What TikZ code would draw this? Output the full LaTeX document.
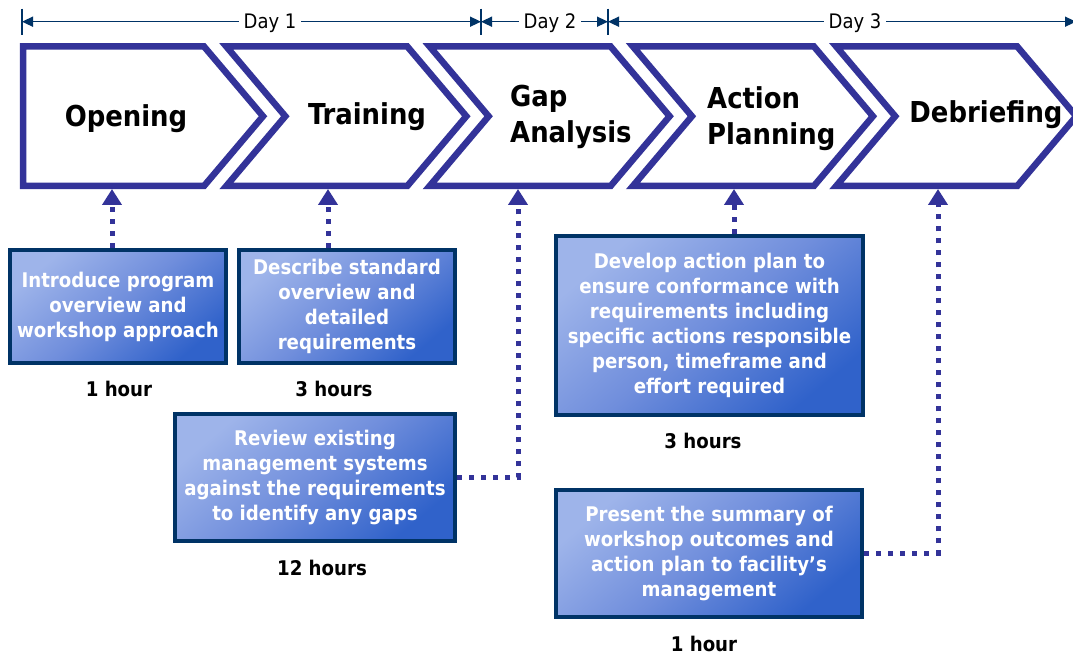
\documentclass[tikz,border=0pt]{standalone}
\usepackage{fontspec}
\setmainfont{DejaVu Sans Condensed}
\usepackage{xcolor}
\usetikzlibrary{arrows.meta}

\definecolor{chevblue}{RGB}{51,51,153}
\definecolor{navy}{RGB}{0,51,102}
\definecolor{boxlight}{RGB}{158,180,234}
\definecolor{boxmid}{RGB}{112,142,220}
\definecolor{boxdark}{RGB}{48,98,202}

\begin{document}
\begin{tikzpicture}[x=1pt,y=-1pt,
 chev/.style={draw=chevblue,line width=6.5pt,fill=white},
 stage/.style={font=\bfseries\fontsize{28.8}{36}\selectfont,inner sep=0pt},
 task/.style={draw=navy,line width=4.5pt,top color=boxlight,bottom color=boxdark,middle color=boxmid,shading angle=40,
  text=white,font=\bfseries\fontsize{20.2}{25}\selectfont,align=center,inner sep=0pt},
 hrs/.style={font=\bfseries\fontsize{20.2}{25}\selectfont,inner sep=0pt,anchor=base},
 link/.style={draw=chevblue,line width=5pt,dash pattern=on 5pt off 7pt,-{Triangle[length=16pt,width=19pt]}},
 span/.style={draw=navy,line width=1.5pt,{Triangle[length=11pt,width=10pt]}-{Triangle[length=11pt,width=10pt]}},
 tick/.style={draw=navy,line width=1.5pt},
 day/.style={fill=white,font=\fontsize{20}{24}\selectfont,inner xsep=5pt,inner ysep=1pt,anchor=base}]

\path[use as bounding box,fill=white] (0,0) rectangle (1073,655);

% days
\coordinate (t0) at (22,21.7);
\coordinate (t1) at (481,21.7);
\coordinate (t2) at (608,21.7);
\coordinate (t3) at (1076,21.7);
\foreach \t in {t0,t1,t2} \draw[tick] (\t) ++(0,-13) -- ++(0,26);
\draw[span] (t0) -- (t1);
\draw[span] (t1) -- (t2);
\draw[span] (t2) -- (t3);
\node[day] (day1) at (270,28.5) {Day 1};
\node[day] (day2) at (550,28.5) {Day 2};
\node[day] (day3) at (855,28.5) {Day 3};

% stages
\begin{scope}[shift={(23,46.5)}]
 \def\w{181} \def\d{59} \def\h{69.75} \def\p{203.3}
 \draw[chev] (0,0) -- ++(\w,0) -- ++(\d,\h) -- ++(-\d,\h) -- ++(-\w,0) -- cycle;
 \foreach \i in {1,...,4}
  \draw[chev,shift={(\i*\p,0)}] (0,0) -- ++(\w,0) -- ++(\d,\h) -- ++(-\d,\h) -- ++(-\w,0) -- ++(\d,-\h) -- cycle;
\end{scope}

\node[stage,anchor=base] (opening) at (126,127) {Opening};
\node[stage,anchor=base] (training) at (367,125) {Training};
\node[stage,align=left,anchor=base west] (gap) at (510,143) {Gap\\Analysis};
\node[stage,align=left,anchor=base west] (action) at (707,145) {Action\\Planning};
\node[stage,anchor=base] (debrief) at (986,123) {Debriefing};

\coordinate (opening-in) at (112,189);
\coordinate (training-in) at (328,189);
\coordinate (gap-in) at (518,189);
\coordinate (action-in) at (734,189);
\coordinate (debrief-in) at (938,189);

% tasks
\node[task,minimum width=216pt,minimum height=113pt] (intro) at (118,306.5)
 {Introduce program\\overview and\\workshop approach};
\node[task,minimum width=216pt,minimum height=113pt] (std) at (347,306.5)
 {Describe standard\\overview and\\detailed\\requirements};
\node[task,minimum width=280pt,minimum height=127pt] (review) at (315,477.5)
 {Review existing\\management systems\\against the requirements\\to identify any gaps};
\node[task,minimum width=307pt,minimum height=179pt] (plan) at (709.5,325.5)
 {Develop action plan to\\ensure conformance with\\requirements including\\specific actions responsible\\person, timeframe and\\effort required};
\node[task,minimum width=306pt,minimum height=127pt] (present) at (709,553.5)
 {Present the summary of\\workshop outcomes and\\action plan to facility’s\\management};

\node[hrs] (intro-h) at (119,396) {1 hour};
\node[hrs] (std-h) at (334,396) {3 hours};
\node[hrs] (review-h) at (322,575) {12 hours};
\node[hrs] (plan-h) at (703,448) {3 hours};
\node[hrs] (present-h) at (704,651) {1 hour};

% links
\draw[link] (opening-in |- intro.north) -- (opening-in);
\draw[link] (training-in |- std.north) -- (training-in);
\draw[link] (review.east) -| (gap-in);
\draw[link] (action-in |- plan.north) -- (action-in);
\draw[link] (present.east) -| (debrief-in);

\end{tikzpicture}
\end{document}
